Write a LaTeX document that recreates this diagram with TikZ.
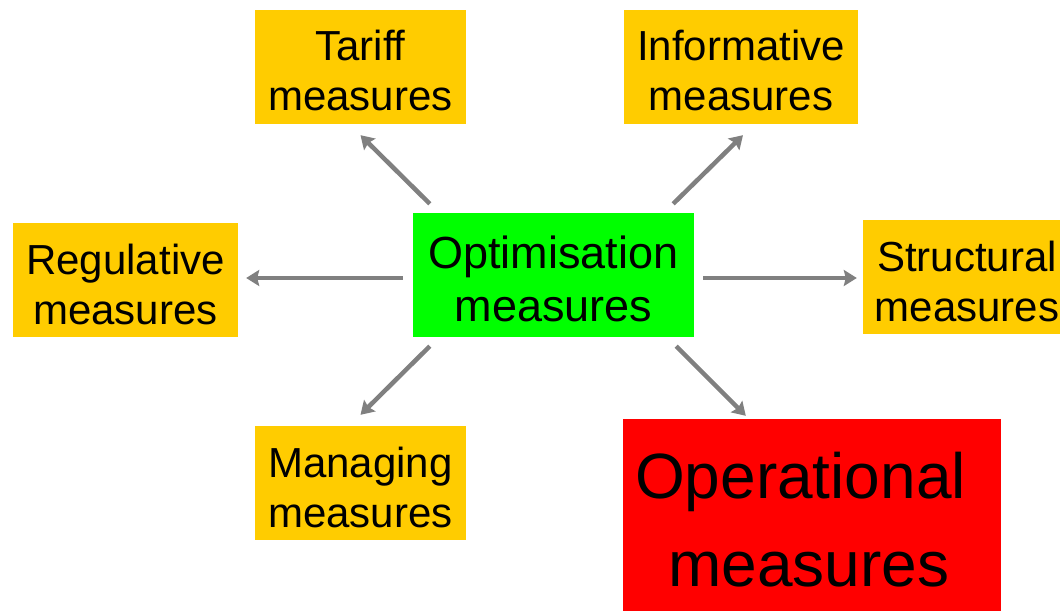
\documentclass[tikz,border=0pt]{standalone}
\usepackage{fontspec}
\setmainfont{Liberation Sans}
\usetikzlibrary{arrows.meta}
\definecolor{measureyellow}{HTML}{FFCC00}
\definecolor{optgreen}{HTML}{00FF00}
\definecolor{opred}{HTML}{FF0000}
\definecolor{arrowgray}{HTML}{808080}
\tikzset{
    measure/.style={fill=measureyellow, minimum width=#1, minimum height=114bp,
        inner sep=0pt, align=center, text height=88bp, text depth=0bp,
        font=\fontsize{42bp}{50bp}\selectfont},
    centre/.style={fill=optgreen, minimum width=281bp, minimum height=124bp,
        inner sep=0pt, align=center, text height=93bp, text depth=0bp,
        font=\fontsize{45bp}{53bp}\selectfont},
    opbox/.style={fill=opred, minimum width=378bp, minimum height=204bp,
        inner sep=0pt, align=center, text height=131bp, text depth=0bp,
        font=\fontsize{64bp}{88bp}\selectfont},
    pointer/.style={draw=arrowgray, line width=4.5bp,
        -{Stealth[length=13bp,width=16bp,inset=2bp]}},
}

\begin{document}
\begin{tikzpicture}[x=1bp,y=-1bp]
    \clip (0,0) rectangle (1060,611);
    \fill[white] (0,0) rectangle (1060,611);

    \node[centre] (optimisation) at (553.5,275) {Optimisation\\measures};

    \node[measure=211bp] (tariff) at (360.5,67) {Tariff\\measures};
    \node[measure=234bp] (informative) at (741,67) {Informative\\measures};
    \node[measure=225bp] (regulative) at (125.5,280) {Regulative\\measures};
    \node[measure=208bp] (structural) at (967,277) {Structural\\measures};
    \node[measure=211bp] (managing) at (360.5,483) {Managing\\measures};
    \node[opbox] (operational) at (812,521)
        {Operational\hspace*{23bp}\\measures\hspace*{6bp}};

    % arrows out of the centre box
    \draw[pointer] ([shift={(17,-9)}]optimisation.north west) -- ([shift={(0,11)}]tariff.south);
    \draw[pointer] ([shift={(-21,-9)}]optimisation.north east) -- ([shift={(2,11)}]informative.south);
    \draw[pointer] ([shift={(-10,3)}]optimisation.west) -- ([shift={(8,-2)}]regulative.east);
    \draw[pointer] ([shift={(9,3)}]optimisation.east) -- ([shift={(-6,1)}]structural.west);
    \draw[pointer] ([shift={(17,9)}]optimisation.south west) -- ([shift={(0,-11)}]managing.north);
    \draw[pointer] ([shift={(-18,9)}]optimisation.south east) -- ([shift={(123,-3)}]operational.north west);
\end{tikzpicture}
\end{document}
